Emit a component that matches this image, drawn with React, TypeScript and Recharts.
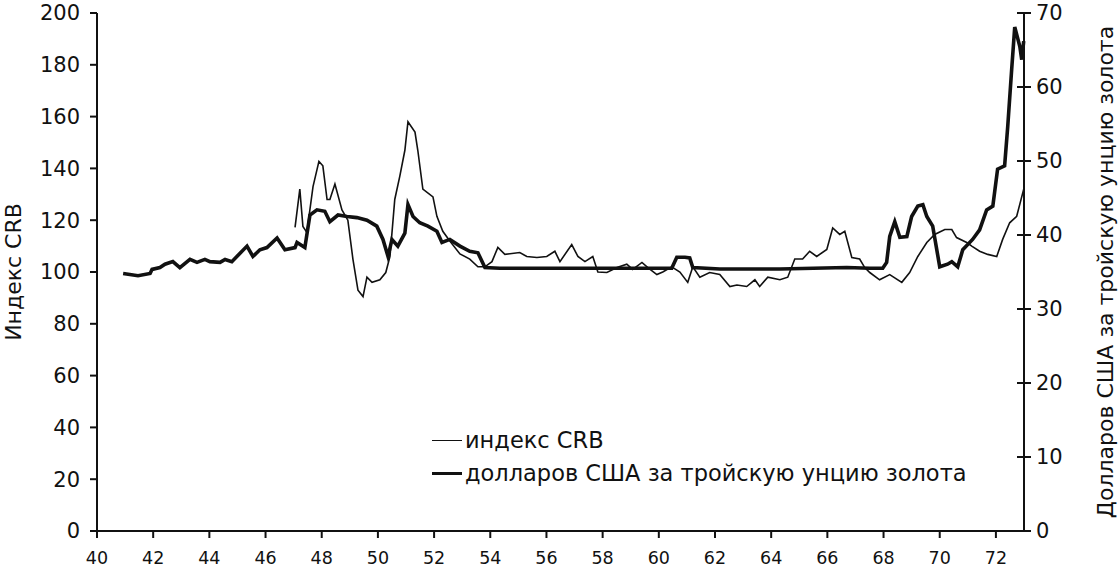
import React from "react"
import { LineChart, Line, XAxis, YAxis } from "recharts"

// годы (дробные) и цена золота, долл. за тройскую унцию
const goldYears = [
  40.93, 41.46, 41.89, 41.96, 42.24, 42.42, 42.7, 42.95, 43.31, 43.56, 43.84, 44.02, 44.38, 44.56, 44.8,
  45.34, 45.55, 45.8, 46.05, 46.41, 46.69, 47.05, 47.12, 47.4, 47.58, 47.83, 48.11, 48.29, 48.58, 48.9,
  49.25, 49.61, 49.96, 50.18, 50.36, 50.5, 50.71, 50.96, 51.07, 51.25, 51.49, 51.78, 52.1, 52.28, 52.56,
  52.92, 53.27, 53.56, 53.81, 54.34, 56.12, 57.9, 59.68, 60.46, 60.64, 60.93, 61.1, 61.21, 62.17, 64.31,
  66.69, 67.51, 67.97, 68.11, 68.22, 68.4, 68.58, 68.83, 69.0, 69.22, 69.4, 69.54, 69.75, 70.0, 70.28,
  70.43, 70.64, 70.82, 71.17, 71.42, 71.67, 71.89, 72.06, 72.31, 72.42, 72.56, 72.67, 72.85, 72.92, 72.99,
]
const goldValues = [
  34.8, 34.5, 34.8, 35.35, 35.6, 36.05, 36.4, 35.6, 36.7, 36.3, 36.7, 36.4, 36.3, 36.7, 36.4,
  38.5, 37.1, 38.0, 38.3, 39.6, 38.0, 38.3, 39.0, 38.3, 42.7, 43.4, 43.2, 41.8, 42.7, 42.5,
  42.35, 42.0, 41.2, 39.4, 37.1, 39.4, 38.5, 40.25, 44.1, 42.5, 41.65, 41.2, 40.5, 39.0, 39.4,
  38.5, 37.8, 37.6, 35.6, 35.5, 35.5, 35.5, 35.5, 35.5, 37.0, 37.0, 36.9, 35.6, 35.4, 35.4,
  35.6, 35.5, 35.5, 36.3, 39.8, 41.8, 39.7, 39.8, 42.5, 43.9, 44.1, 42.5, 41.2, 35.7, 36.05,
  36.4, 35.7, 38.0, 39.4, 40.7, 43.4, 43.9, 48.9, 49.35, 54.6, 62.3, 68.1, 65.5, 63.7, 66.2,
]

// индекс CRB
const crbYears = [
  47.05, 47.22, 47.33, 47.47, 47.69, 47.9, 48.04, 48.19, 48.29, 48.47, 48.72, 48.93, 49.11, 49.29, 49.47,
  49.61, 49.79, 50.07, 50.28, 50.43, 50.6, 50.78, 50.96, 51.07, 51.32, 51.42, 51.6, 51.96, 52.1, 52.31,
  52.56, 52.92, 53.27, 53.56, 53.81, 54.06, 54.27, 54.52, 55.05, 55.3, 55.66, 56.01, 56.3, 56.48, 56.9,
  57.12, 57.37, 57.65, 57.83, 58.15, 58.51, 58.86, 59.07, 59.4, 59.61, 59.93, 60.14, 60.46, 60.75, 61.03,
  61.21, 61.46, 61.81, 62.17, 62.53, 62.78, 63.13, 63.42, 63.59, 63.88, 64.31, 64.59, 64.84, 65.12, 65.37,
  65.62, 65.98, 66.19, 66.44, 66.62, 66.87, 67.15, 67.33, 67.51, 67.86, 68.22, 68.65, 68.93, 69.22, 69.54,
  69.82, 70.18, 70.43, 70.6, 70.96, 71.14, 71.42, 71.71, 72.03, 72.24, 72.49, 72.74, 72.99,
]
const crbValues = [
  117.2, 132, 117.6, 115.3, 133, 142.7, 141, 128, 128, 134, 124, 120, 105, 93, 90.5,
  98, 96, 97, 99.8, 106, 128, 137, 147, 158, 154, 147, 132, 129, 121.5, 115.7,
  112, 107, 105, 102, 102, 104, 109.5, 106.8, 107.5, 106, 105.6, 106, 108, 104, 110.6,
  106, 104, 106, 100, 99.8, 101.7, 103, 101, 103.7, 101.7, 99, 100, 102, 100, 96,
  102, 98, 99.8, 99, 94.4, 95, 94.4, 97, 94.4, 98, 97, 98, 105, 105, 108,
  106, 108.7, 117, 114.5, 115.7, 105.6, 105, 101.7, 99.8, 97, 99, 96, 99.8, 106, 111.4,
  114.5, 116.4, 116.4, 113.3, 111.4, 110, 108, 106.8, 106, 112.6, 119, 121.5, 132,
]

const yearTicks = [40, 42, 44, 46, 48, 50, 52, 54, 56, 58, 60, 62, 64, 66, 68, 70, 72]
const crbTicks = [0, 20, 40, 60, 80, 100, 120, 140, 160, 180, 200]
const goldTicks = [0, 10, 20, 30, 40, 50, 60, 70]

const goldData = goldYears.map((x, i) => ({ x, gold: goldValues[i] }))
const crbData = crbYears.map((x, i) => ({ x, crb: crbValues[i] }))

const font = "'DejaVu Sans', 'Open Sans', sans-serif"
const ink = "#111"

const RightTick = (props: any) => {
  const { x, y, payload } = props
  return (
    <g>
      <line x1={x - 7} x2={x + 7} y1={y} y2={y} stroke={ink} strokeWidth={2} />
      <text x={x + 12} y={y} dy={7} fontSize={21} fill={ink} fontFamily={font} textAnchor="start">
        {payload.value}
      </text>
    </g>
  )
}

// легенда поверх графика
const LegendBox = () => (
  <div style={{ position: "absolute", left: 432, top: 424, fontFamily: font, fontSize: 22.5, color: ink, lineHeight: "33px" }}>
    <div style={{ display: "flex", alignItems: "center" }}>
      <span style={{ display: "inline-block", width: 30, height: 0, borderTop: `1.5px solid ${ink}`, marginRight: 3 }} />
      индекс CRB
    </div>
    <div style={{ display: "flex", alignItems: "center" }}>
      <span style={{ display: "inline-block", width: 30, height: 0, borderTop: `3.5px solid ${ink}`, marginRight: 3 }} />
      долларов США за тройскую унцию золота
    </div>
  </div>
)

export default function App() {
  return (
    <div style={{ position: "absolute", left: 0, top: 0, width: 1120, height: 570, background: "#fff" }}>
      <LineChart width={1120} height={570} margin={{ top: 13, right: 0, left: 0, bottom: 0 }}>
        <XAxis
          dataKey="x"
          type="number"
          domain={[40, 73]}
          ticks={yearTicks}
          allowDuplicatedCategory={false}
          height={39}
          tickSize={7}
          tickMargin={14}
          axisLine={{ stroke: ink, strokeWidth: 2 }}
          tickLine={{ stroke: ink, strokeWidth: 2 }}
          tick={{ fontSize: 17.5, fill: ink, fontFamily: font }}
        />
        <YAxis
          yAxisId="left"
          domain={[0, 200]}
          ticks={crbTicks}
          width={97}
          tickSize={7}
          tickMargin={10}
          axisLine={{ stroke: ink, strokeWidth: 2 }}
          tickLine={{ stroke: ink, strokeWidth: 2 }}
          tick={{ fontSize: 21, fill: ink, fontFamily: font }}
          label={{ value: "Индекс CRB", angle: -90, position: "insideLeft", offset: 13, style: { fontSize: 22, fill: ink, fontFamily: font, textAnchor: "middle" } }}
        />
        <YAxis
          yAxisId="right"
          orientation="right"
          domain={[0, 70]}
          ticks={goldTicks}
          width={96}
          tickSize={0}
          tickMargin={0}
          tickLine={false}
          axisLine={{ stroke: ink, strokeWidth: 2 }}
          tick={<RightTick />}
          label={{ value: "Долларов США за тройскую унцию золота", angle: -90, position: "insideRight", offset: 15, style: { fontSize: 22, fill: ink, fontFamily: font, textAnchor: "middle" } }}
        />
        <Line
          yAxisId="left"
          data={crbData}
          dataKey="crb"
          name="индекс CRB"
          type="linear"
          stroke={ink}
          strokeWidth={1.6}
          dot={false}
          isAnimationActive={false}
        />
        <Line
          yAxisId="right"
          data={goldData}
          dataKey="gold"
          name="долларов США за тройскую унцию золота"
          type="linear"
          stroke={ink}
          strokeWidth={3.6}
          dot={false}
          isAnimationActive={false}
        />
      </LineChart>
      <LegendBox />
    </div>
  )
}
